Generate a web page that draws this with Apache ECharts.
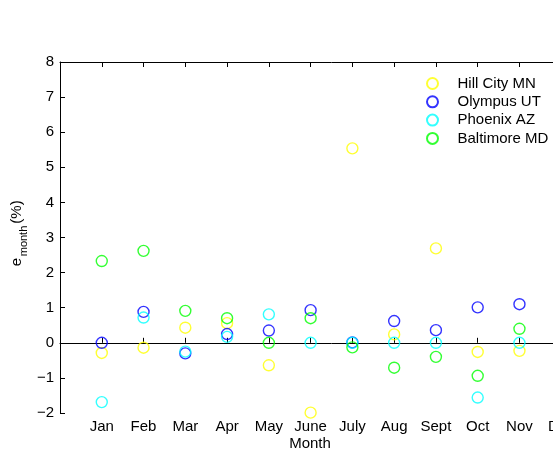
<!DOCTYPE html>
<html><head><meta charset="utf-8">
<script src="https://cdn.jsdelivr.net/npm/echarts@6/dist/echarts.min.js"></script>
<style>html,body{margin:0;padding:0;background:#fff;overflow:hidden}#c{width:610px;height:457px}</style>
</head><body><div id="c"></div>
<script>
const months = ['Jan','Feb','Mar','Apr','May','June','July','Aug','Sept','Oct','Nov','Dec'];
const seriesNames = ['Hill City MN','Olympus UT','Phoenix AZ','Baltimore MD'];
const hillCity  = [-0.29, -0.14, 0.43, 0.56, -0.64, -1.99, 5.54, 0.24, 2.69, -0.26, -0.23];
const olympus   = [0.00, 0.88, -0.30, 0.25, 0.35, 0.93, 0.01, 0.62, 0.36, 1.01, 1.10];
const phoenix   = [-1.69, 0.72, -0.25, 0.17, 0.81, 0.00, 0.00, 0.00, 0.00, -1.56, 0.00];
const baltimore = [2.33, 2.62, 0.91, 0.70, 0.00, 0.70, -0.13, -0.71, -0.40, -0.94, 0.40];
const colors = ['#ffff00','#0000ff','#00ffff','#00ff00'];
const yTicks = [-2,-1,0,1,2,3,4,5,6,7,8];

const allData = [hillCity, olympus, phoenix, baltimore];
const font = 'Liberation Sans, Arial, Helvetica, sans-serif';
const chart = echarts.init(document.getElementById('c'), null, {renderer:'canvas'});
const fmtY = v => v < 0 ? '\u2212' + (-v) : String(v);
chart.setOption({
  animation: false,
  backgroundColor: '#fff',
  grid: {left: 60, top: 62, bottom: 44, right: 7, containLabel: false},
  legend: {
    orient: 'vertical', left: 421, top: 71, itemWidth: 40, itemHeight: 11, itemGap: 3.3,
    icon: 'circle',
    textStyle: {fontFamily: font, fontSize: 15, color: '#000'},
    data: seriesNames
  },
  xAxis: [{
    type: 'value', min: 0, max: 13, interval: 1, position: 'bottom',
    axisLine: {lineStyle: {color: '#000', width: 1}},
    axisTick: {inside: true, length: 5, lineStyle: {color: '#000'}},
    axisLabel: {fontFamily: font, fontSize: 15, color: '#000', margin: 6,
      formatter: v => (v >= 1 && v <= 12) ? months[v-1] : ''},
    splitLine: {show: false}
  },{
    type: 'value', min: 0, max: 13, interval: 1, position: 'top',
    axisLine: {lineStyle: {color: '#000', width: 1}},
    axisTick: {inside: true, length: 5, lineStyle: {color: '#000'}},
    axisLabel: {show: false}, splitLine: {show: false}
  }],
  yAxis: [{
    type: 'value', min: yTicks[0], max: yTicks[yTicks.length-1], interval: 1,
    axisLine: {show: true, lineStyle: {color: '#000', width: 1}},
    axisTick: {show: true, inside: true, length: 5, lineStyle: {color: '#000'}},
    axisLabel: {fontFamily: font, fontSize: 15, color: '#000', margin: 6, formatter: fmtY},
    splitLine: {show: false}
  }],
  graphic: [
    {type: 'text', x: 310, y: 444, style: {text: 'Month', font: '15px ' + font, fill: '#000', textAlign: 'center', textVerticalAlign: 'middle'}},
    {type: 'text', x: 17, y: 262, rotation: Math.PI/2, style: {text: 'e', font: '15px ' + font, fill: '#000', textAlign: 'center', textVerticalAlign: 'middle'}},
    {type: 'text', x: 24, y: 241, rotation: Math.PI/2, style: {text: 'month', font: '11px ' + font, fill: '#000', textAlign: 'center', textVerticalAlign: 'middle'}},
    {type: 'text', x: 17, y: 212, rotation: Math.PI/2, style: {text: '(%)', font: '15px ' + font, fill: '#000', textAlign: 'center', textVerticalAlign: 'middle'}}
  ],
  series: seriesNames.map((n, i) => ({
    name: n, type: 'scatter', symbol: 'circle', symbolSize: 11,
    itemStyle: {color: 'rgba(0,0,0,0)', borderColor: colors[i], borderWidth: 1.4},
    data: allData[i].map((v, k) => [k + 1, v])
  }))
});
</script></body></html>
